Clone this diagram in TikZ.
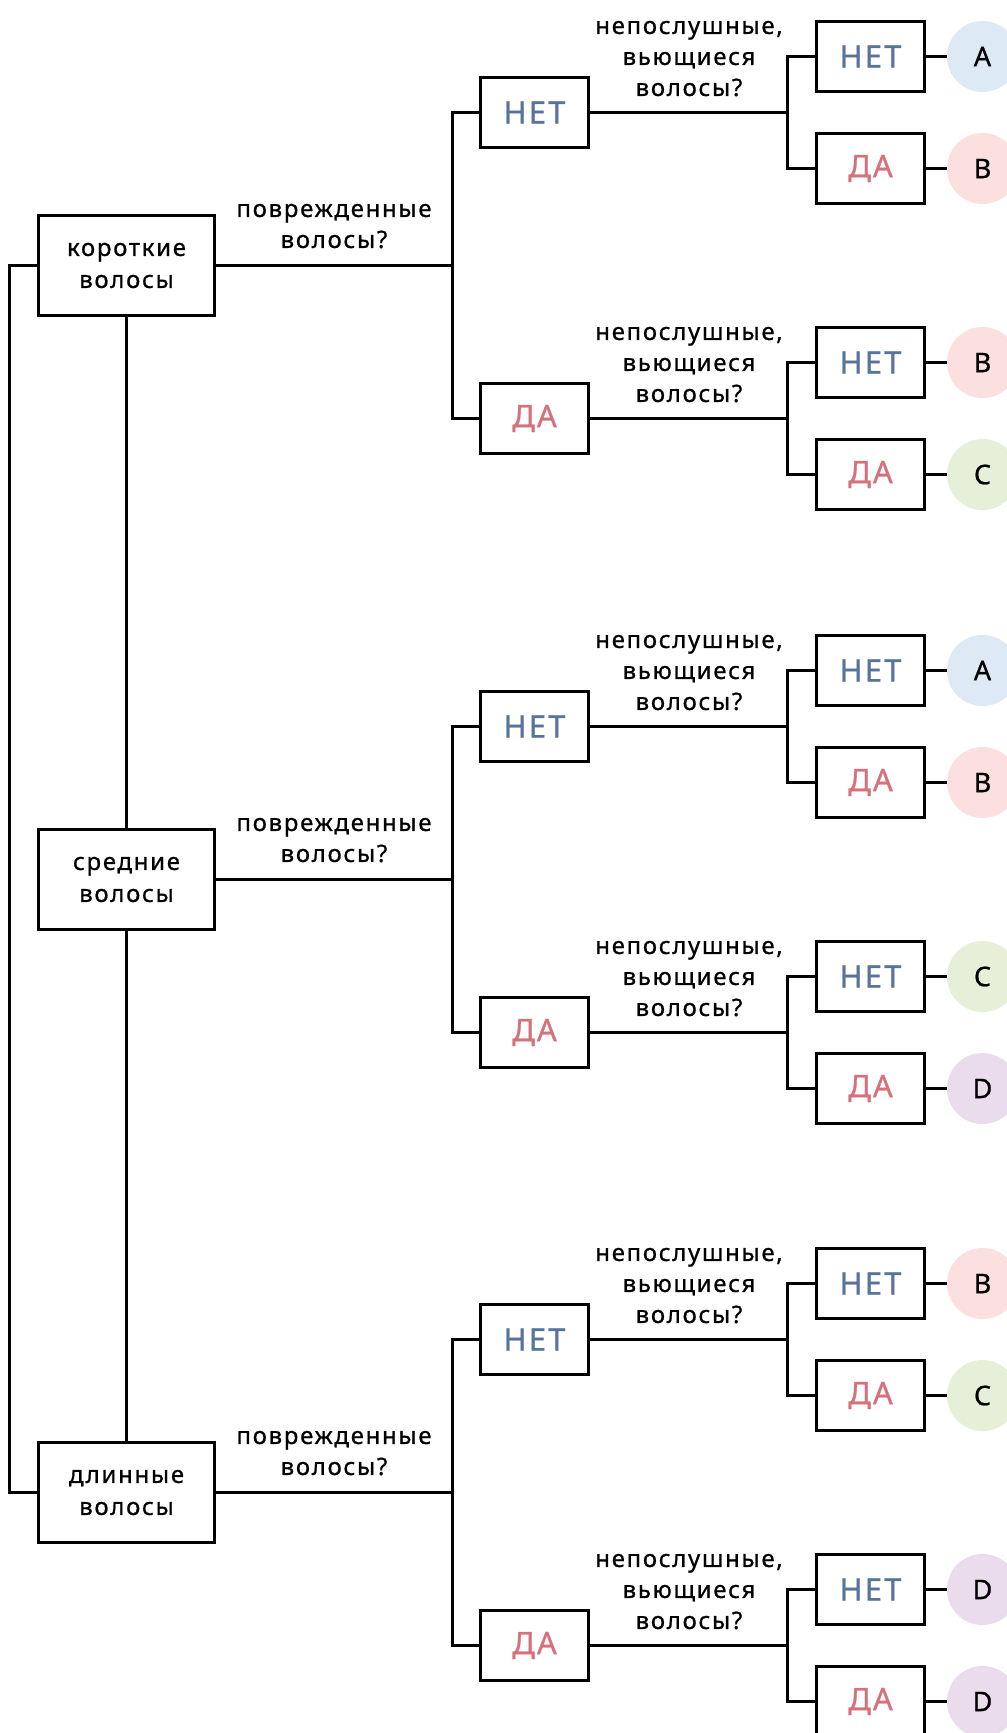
\documentclass[tikz,border=0pt]{standalone}
\usepackage{fontspec}
\setmainfont{Noto Sans}[LetterSpace=7,FakeBold=0.8]
\definecolor{netc}{HTML}{58749B}
\definecolor{dac}{HTML}{D6707A}
\definecolor{colA}{HTML}{DDEAF6}
\definecolor{colB}{HTML}{FCE0E0}
\definecolor{colC}{HTML}{E6F0D8}
\definecolor{colD}{HTML}{EADCEC}
\tikzset{
  conn/.style={line width=3pt},
  rootbox/.style={draw, line width=3pt, minimum width=176pt, minimum height=100pt, inner sep=0pt, align=center, font=\fontsize{24}{32}\selectfont},
  ansbox/.style={draw, line width=3pt, minimum width=108pt, minimum height=70pt, inner sep=0pt, font=\fontsize{31}{34}\selectfont},
  res/.style={circle, minimum size=71pt, inner sep=0pt, font=\fontsize{27}{30}\selectfont},
  lab/.style={align=center, inner sep=0pt, anchor=south, font=\fontsize{24}{31}\selectfont}
}
\newcommand\mysub[5]{%
  \node[ansbox,text=netc] (#5n) at (870.5,#2-56) {НЕТ};
  \node[ansbox,text=dac] (#5d) at (870.5,#2+56) {ДА};
  \coordinate (#5j) at (787.5,#2);
  \draw[conn] (#1.east) -- (#5j);
  \draw[conn] (#5n.west) -| (#5j) |- (#5d.west);
  \node[lab] (#5q) at (689,#2-16) {непослушные,\\вьющиеся\\волосы?};
  \node[res,fill=col#3] (#5rn) at (982.5,#2-56) {#3};
  \node[res,fill=col#4] (#5rd) at (982.5,#2+56) {#4};
  \draw[conn] (#5n.east) -- (#5rn.west);
  \draw[conn] (#5d.east) -- (#5rd.west);
}
\begin{document}
\begin{tikzpicture}[x=1pt,y=-1pt]
\clip (0,0) rectangle (1007,1733);
\fill[white] (0,0) rectangle (1007,1733);
\foreach \s/\o/\rt/\ra/\rb/\rc/\rd in {1/0/короткие/A/B/B/C, 2/614/средние/A/B/C/D, 3/1227/длинные/B/C/D/D}{
  \pgfmathsetmacro\r{265.5+\o}
  \node[rootbox] (root\s) at (126.5,\r) {\rt\\волосы};
  \node[ansbox,text=netc] (n\s) at (534.5,\r-153) {НЕТ};
  \node[ansbox,text=dac] (d\s) at (534.5,\r+153) {ДА};
  \coordinate (j\s) at (452.5,\r);
  \draw[conn] (root\s.east) -- (j\s);
  \draw[conn] (n\s.west) -| (j\s) |- (d\s.west);
  \node[lab] (q\s) at (334,\r-17) {поврежденные\\волосы?};
  \mysub{n\s}{\r-153}{\ra}{\rb}{g\s a}
  \mysub{d\s}{\r+153}{\rc}{\rd}{g\s b}
}
\draw[conn] (root1.south) -- (root2.north);
\draw[conn] (root2.south) -- (root3.north);
\draw[conn] (root1.west) -- ++(-28,0) |- (root3.west);
\end{tikzpicture}
\end{document}
